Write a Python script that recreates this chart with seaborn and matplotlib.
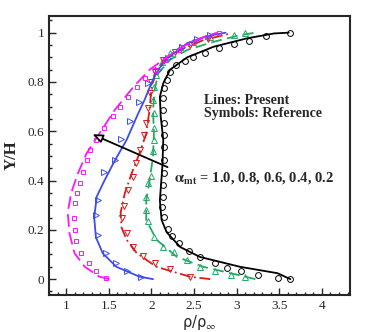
import matplotlib
matplotlib.use('Agg')
import matplotlib.pyplot as plt
import seaborn as sns
from matplotlib.ticker import MultipleLocator

# Lines (present), curves from alpha_mt = 0.2 .. 1.0
blk_x = [3.63, 3.48, 3.04, 2.57, 2.34, 2.18, 2.12, 2.10, 2.13, 2.14, 2.11, 2.10, 2.14, 2.22, 2.42, 2.73, 3.12, 3.44, 3.61]
blk_y = [0.0, 0.024, 0.05, 0.09, 0.13, 0.19, 0.24, 0.32, 0.46, 0.565, 0.66, 0.74, 0.795, 0.85, 0.90, 0.943, 0.977, 0.997, 1.0]
grn_x = [3.22, 3.10, 2.61, 2.30, 2.06, 1.94, 1.94, 1.98, 2.02, 2.03, 2.02, 2.04, 2.08, 2.22, 2.42, 2.73, 3.04, 3.22]
grn_y = [0.0, 0.01, 0.05, 0.09, 0.16, 0.24, 0.32, 0.40, 0.50, 0.59, 0.69, 0.77, 0.835, 0.89, 0.93, 0.963, 0.99, 1.0]
red_x = [2.69, 2.45, 2.06, 1.83, 1.71, 1.65, 1.64, 1.69, 1.77, 1.86, 1.94, 1.98, 2.00, 2.04, 2.16, 2.34, 2.61, 2.93]
red_y = [0.0, 0.01, 0.05, 0.105, 0.16, 0.21, 0.27, 0.35, 0.43, 0.51, 0.59, 0.69, 0.77, 0.835, 0.89, 0.93, 0.97, 0.997]
blu_x = [2.02, 1.86, 1.59, 1.43, 1.35, 1.33, 1.36, 1.45, 1.57, 1.71, 1.83, 1.92, 2.00, 2.08, 2.20, 2.42, 2.65, 2.87]
blu_y = [0.0, 0.01, 0.05, 0.105, 0.17, 0.25, 0.335, 0.40, 0.48, 0.565, 0.66, 0.727, 0.795, 0.85, 0.90, 0.957, 0.986, 1.0]
mag_x = [1.51, 1.39, 1.22, 1.10, 1.04, 1.02, 1.06, 1.14, 1.24, 1.39, 1.57, 1.79, 1.98, 2.18, 2.36, 2.57, 2.77]
mag_y = [0.0, 0.01, 0.05, 0.105, 0.186, 0.27, 0.35, 0.43, 0.51, 0.59, 0.686, 0.78, 0.85, 0.90, 0.943, 0.977, 1.0]

# Symbols (reference)
blk_rx = [3.63, 3.48, 3.25, 3.05, 2.89, 2.75, 2.57, 2.44, 2.32, 2.24, 2.20, 2.15, 2.13, 2.14, 2.14, 2.15, 2.15, 2.15, 2.15,
          2.15, 2.14, 2.14, 2.15, 2.18, 2.22, 2.29, 2.40, 2.49, 2.63, 2.79, 2.97, 3.14, 3.34, 3.63]
blk_ry = [0.0, 0.004, 0.016, 0.032, 0.047, 0.065, 0.088, 0.116, 0.146, 0.173, 0.205, 0.254, 0.292, 0.335, 0.382, 0.43, 0.484,
          0.538, 0.585, 0.632, 0.686, 0.734, 0.774, 0.808, 0.842, 0.869, 0.886, 0.90, 0.916, 0.936, 0.954, 0.968, 0.986, 0.997]
grn_rx = [3.10, 2.93, 2.75, 2.57, 2.42, 2.26, 2.14, 2.03, 1.96, 1.94, 1.94, 1.96, 2.00, 2.02, 2.03, 2.03, 2.03, 2.02, 2.03,
          2.06, 2.12, 2.22, 2.34, 2.49, 2.69, 2.97, 3.10]
grn_ry = [0.008, 0.016, 0.034, 0.05, 0.078, 0.11, 0.13, 0.17, 0.234, 0.28, 0.335, 0.39, 0.42, 0.518, 0.565, 0.612, 0.673,
          0.727, 0.78, 0.828, 0.882, 0.916, 0.943, 0.964, 0.981, 0.992, 0.997]
red_rx = [2.45, 2.22, 2.04, 1.90, 1.79, 1.71, 1.66, 1.68, 1.73, 1.78, 1.82, 1.87, 1.91, 1.94, 1.96, 1.98, 2.00, 2.04, 2.14,
          2.28, 2.45, 2.67]
red_ry = [0.01, 0.04, 0.065, 0.095, 0.13, 0.186, 0.247, 0.295, 0.36, 0.416, 0.47, 0.524, 0.585, 0.632, 0.693, 0.754, 0.80,
          0.842, 0.889, 0.923, 0.95, 0.973]
blu_rx = [1.88, 1.71, 1.59, 1.47, 1.37, 1.35, 1.37, 1.45, 1.57, 1.65, 1.75, 1.85, 1.96, 2.08, 2.20, 2.36, 2.53, 2.69]
blu_ry = [0.008, 0.031, 0.065, 0.105, 0.18, 0.26, 0.32, 0.436, 0.484, 0.57, 0.64, 0.72, 0.795, 0.85, 0.896, 0.943, 0.973, 0.99]
mag_rx = [1.47, 1.35, 1.27, 1.18, 1.12, 1.10, 1.09, 1.10, 1.13, 1.16, 1.20, 1.24, 1.28, 1.35, 1.45, 1.55, 1.63, 1.73, 1.83,
          1.92, 2.04, 2.16, 2.32, 2.47, 2.65, 2.79]
mag_ry = [0.004, 0.031, 0.065, 0.105, 0.153, 0.20, 0.247, 0.308, 0.35, 0.39, 0.436, 0.484, 0.524, 0.565, 0.612, 0.66, 0.70,
          0.74, 0.78, 0.815, 0.85, 0.89, 0.93, 0.96, 0.984, 0.997]

sns.set_style("ticks")
plt.rcParams['font.family'] = ['Liberation Serif', 'DejaVu Serif']
plt.rcParams['mathtext.fontset'] = 'stix'

fig, ax = plt.subplots(figsize=(3.74, 3.32), dpi=100)
fig.subplots_adjust(left=0.131, right=0.936, bottom=0.111, top=0.952)

curves = [
    (blk_x, blk_y, blk_rx, blk_ry, 'black', '-', 'o', 4.2),
    (grn_x, grn_y, grn_rx, grn_ry, '#22aa66', (0, (6, 3)), '^', 4),
    (red_x, red_y, red_rx, red_ry, '#dd1a1a', (0, (6, 2, 1, 2)), 'v', 4),
    (blu_x, blu_y, blu_rx, blu_ry, '#3d4cf2', '-', '>', 4),
    (mag_x, mag_y, mag_rx, mag_ry, '#ff14ff', (0, (7, 3)), 's', 3.5),
]
for lx, ly, rx, ry, col, ls, mk, ms in curves:
    sns.lineplot(x=lx, y=ly, sort=False, estimator=None, color=col, linestyle=ls, lw=1.3, ax=ax)
    sns.lineplot(x=rx, y=ry, sort=False, estimator=None, color=col, linestyle='none', marker=mk,
                 ms=ms, mfc='none', mec=col, mew=0.7, ax=ax)

ax.annotate('', xy=(1.28, 0.592), xytext=(2.22, 0.45),
            arrowprops=dict(arrowstyle='-|>,head_length=0.6,head_width=0.25', fc='white', ec='black', lw=1.3))
ax.text(2.62, 0.70, 'Lines: Present\nSymbols: Reference', fontsize=10, fontweight='bold',
        va='center', ha='left', linespacing=1.0)
ax.text(2.27, 0.41, r'$\mathbf{\alpha_{mt}}$ = 1.0, 0.8, 0.6, 0.4, 0.2', fontsize=10.5, fontweight='bold',
        va='center', ha='left')

ax.set_xlim(0.8, 4.33)
ax.set_ylim(-0.065, 1.068)
ax.xaxis.set_minor_locator(MultipleLocator(0.1))
ax.yaxis.set_minor_locator(MultipleLocator(0.05))
ax.set_xticks([1, 1.5, 2, 2.5, 3, 3.5, 4])
ax.set_xticklabels(['1', '1.5', '2', '2.5', '3', '3.5', '4'])
ax.set_yticks([0, 0.2, 0.4, 0.6, 0.8, 1.0])
ax.set_yticklabels(['0', '0.2', '0.4', '0.6', '0.8', '1'])
ax.tick_params(which='both', direction='in', labelsize=9.5, width=1)
ax.tick_params(which='major', length=5)
ax.tick_params(which='minor', length=2.5)
for s in ax.spines.values():
    s.set_linewidth(1.5)
    s.set_visible(True)

ax.set_ylabel('Y/H', fontsize=12, fontweight='bold', labelpad=6)
ax.set_xlabel(r'ρ/ρ$_\infty$', fontsize=10.5, family=['DejaVu Sans'], labelpad=1)

plt.savefig('out.png', dpi=100)
